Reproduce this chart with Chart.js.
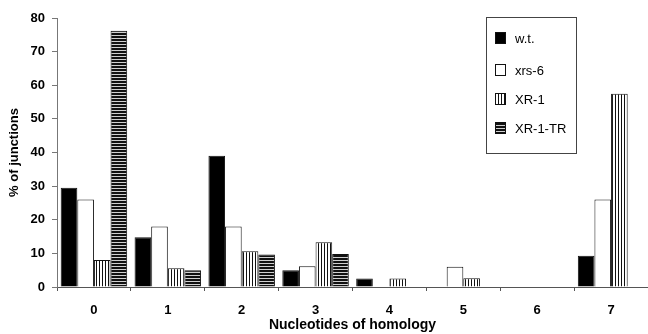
<!DOCTYPE html>
<html>
<head>
<meta charset="utf-8">
<script src="https://cdn.jsdelivr.net/npm/chart.js@4"></script>
<style>
  body { margin: 0; background: #fff; }
  #wrap { width: 648px; height: 334px; }
</style>
</head>
<body>
<div id="wrap"><canvas id="junctions" width="648" height="334"></canvas></div>
<script>
// x categories: nucleotides of homology
const categories = ['0', '1', '2', '3', '4', '5', '6', '7'];
// % of junctions per cell line
const wt = [29.5, 14.8, 39, 5, 2.5, 0, 0, 9.3];
const xrs6 = [26, 18, 18, 6.2, 0, 6, 0, 26];
const xr1 = [8, 5.6, 10.6, 13.3, 2.5, 2.6, 0, 57.5];
const xr1tr = [76.2, 5, 9.7, 9.8, 0, 0, 0, 0];
const seriesNames = ['w.t.', 'xrs-6', 'XR-1', 'XR-1-TR'];

// stripe fills
function makePattern(kind) {
    const c = document.createElement('canvas');
    c.width = 3; c.height = 3;
    const g = c.getContext('2d');
    g.fillStyle = '#fff';
    g.fillRect(0, 0, 3, 3);
    if (kind === 'vertical') {
        g.fillStyle = '#111';
        g.fillRect(0, 0, 1, 3);
    } else {
        g.fillStyle = '#111';
        g.fillRect(0, 0, 3, 2);
        g.fillStyle = '#d0d0d0';
        g.fillRect(0, 2, 3, 1);
    }
    return g.createPattern(c, 'repeat');
}

const fills = ['#000', '#fff', makePattern('vertical'), makePattern('horizontal')];

function creat_chart(id) {
    const ctx = document.getElementById(id).getContext('2d');
    const values = [wt, xrs6, xr1, xr1tr];

    const data = {
        labels: categories,
        datasets: values.map((v, i) => ({
            label: seriesNames[i],
            data: v,
            backgroundColor: fills[i],
            borderColor: '#111',
            borderWidth: 1,
            categoryPercentage: 0.9,
            barPercentage: 1.0
        }))
    };

    // legend box drawn inside the plot, top right
    const boxLegend = {
        id: 'boxLegend',
        afterDraw: chart => {
            const c = chart.ctx;
            c.save();
            c.strokeStyle = '#444';
            c.lineWidth = 1;
            c.strokeRect(486.5, 17.5, 90, 136);
            const rows = [38, 70, 99, 128];
            chart.data.datasets.forEach((ds, i) => {
                const y = rows[i];
                c.fillStyle = ds.backgroundColor;
                c.fillRect(495, y - 6, 11, 12);
                c.strokeStyle = '#111';
                c.strokeRect(495.5, y - 5.5, 10, 11);
                c.fillStyle = '#000';
                c.font = '13px "Liberation Sans", Arial, sans-serif';
                c.textBaseline = 'middle';
                c.fillText(ds.label, 515, y + 1);
            });
            c.restore();
        }
    };

    new Chart(ctx, {
        type: 'bar',
        data: data,
        plugins: [boxLegend],
        options: {
            responsive: false,
            animation: false,
            layout: { padding: { top: 18, right: 0, left: 0, bottom: 0 } },
            plugins: {
                legend: { display: false },
                tooltip: { enabled: false }
            },
            scales: {
                x: {
                    afterFit: s => { s.height = 47; },
                    grid: {
                        drawOnChartArea: false,
                        drawTicks: true,
                        tickLength: 4,
                        color: '#555'
                    },
                    border: { color: '#555', width: 1 },
                    ticks: {
                        color: '#000',
                        padding: 12,
                        font: { family: '"Liberation Sans", Arial, sans-serif', size: 13, weight: 'bold' }
                    },
                    title: {
                        display: true,
                        text: 'Nucleotides of homology',
                        color: '#000',
                        padding: { top: 0, bottom: 0 },
                        font: { family: '"Liberation Sans", Arial, sans-serif', size: 14, weight: 'bold' }
                    }
                },
                y: {
                    min: 0,
                    max: 80,
                    afterFit: s => { s.width = 57; },
                    grid: {
                        drawOnChartArea: false,
                        drawTicks: true,
                        tickLength: 5,
                        color: '#777'
                    },
                    border: { color: '#777', width: 1 },
                    ticks: {
                        stepSize: 10,
                        color: '#000',
                        padding: 7,
                        font: { family: '"Liberation Sans", Arial, sans-serif', size: 13, weight: 'bold' }
                    },
                    title: {
                        display: true,
                        text: '% of junctions',
                        color: '#000',
                        padding: { top: 7, bottom: 0 },
                        font: { family: '"Liberation Sans", Arial, sans-serif', size: 13, weight: 'bold' }
                    }
                }
            }
        }
    });
}

creat_chart('junctions');
</script>
</body>
</html>
